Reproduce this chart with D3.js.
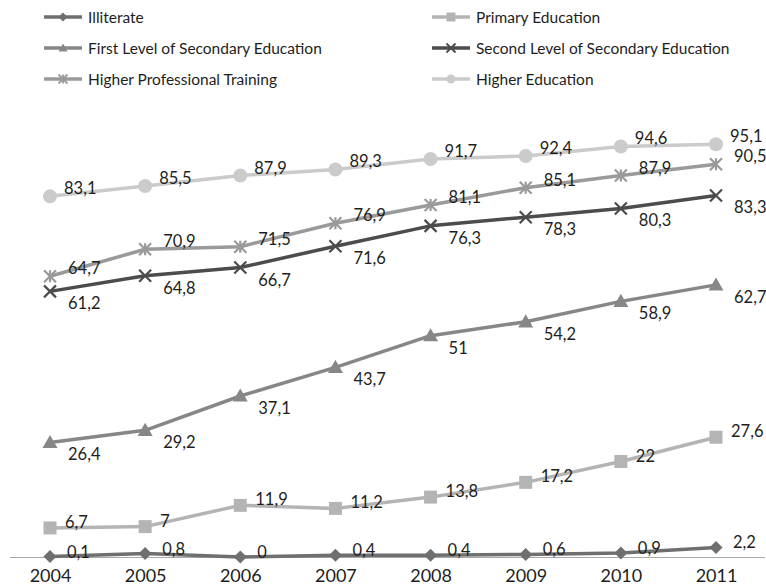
<!DOCTYPE html>
<html><head><meta charset="utf-8">
<script src="https://cdn.jsdelivr.net/npm/d3@7"></script>
<style>
body{margin:0;background:#fff}
svg{display:block}
text{font-family:Lato,"Open Sans",sans-serif;fill:#1e1e1e}
</style></head>
<body><svg id="chart" width="766" height="587"></svg>
<script>
// ---- data ----
const years = ["2004","2005","2006","2007","2008","2009","2010","2011"];
const illiterate = [0.1,0.8,0,0.4,0.4,0.6,0.9,2.2];
const primaryEducation = [6.7,7,11.9,11.2,13.8,17.2,22,27.6];
const firstSecondary = [26.4,29.2,37.1,43.7,51,54.2,58.9,62.7];
const secondSecondary = [61.2,64.8,66.7,71.6,76.3,78.3,80.3,83.3];
const higherProfessional = [64.7,70.9,71.5,76.9,81.1,85.1,87.9,90.5];
const higherEducation = [83.1,85.5,87.9,89.3,91.7,92.4,94.6,95.1];
const seriesNames = ["Illiterate","Primary Education","First Level of Secondary Education",
  "Second Level of Secondary Education","Higher Professional Training","Higher Education"];
const seriesValues = [illiterate,primaryEducation,firstSecondary,secondSecondary,higherProfessional,higherEducation];

// ---- styles (not data) ----
const styles = [
  {color:"#6f6f6f", marker:"diamond",  ldx:17, ldy:-5,  legCol:0, legRow:0},
  {color:"#b4b4b4", marker:"square",   ldx:15, ldy:-6,  legCol:1, legRow:0},
  {color:"#878787", marker:"triangle", ldx:18, ldy:12,  legCol:0, legRow:1},
  {color:"#4c4c4c", marker:"x",        ldx:18, ldy:12,  legCol:1, legRow:1},
  {color:"#9a9a9a", marker:"star",     ldx:18, ldy:-8,  legCol:0, legRow:2},
  {color:"#cbcbcb", marker:"circle",   ldx:14, ldy:-8,  legCol:1, legRow:2}
];

const svg = d3.select("#chart");
const x = d3.scalePoint().domain(years).range([50,716]);
const y = d3.scaleLinear().domain([0,100]).range([557,123]);

function markerPath(type, s){
  const h = s/2;
  switch(type){
    case "diamond": return `M0,${-h}L${h},0L0,${h}L${-h},0Z`;
    case "square": return `M${-h},${-h}H${h}V${h}H${-h}Z`;
    case "triangle": return `M0,${-h}L${h},${h*0.75}L${-h},${h*0.75}Z`;
    case "x": return `M${-h},${-h}L${h},${h}M${-h},${h}L${h},${-h}`;
    case "star": return `M${-h},${-h}L${h},${h}M${-h},${h}L${h},${-h}M0,${-h}V${h}`;
    case "circle": return d3.arc()({innerRadius:0,outerRadius:h,startAngle:0,endAngle:2*Math.PI});
  }
}
const isStroke = t => t==="x" || t==="star";

// axis (category axis line + labels)
const xAxis = d3.axisBottom(x).tickSize(0).tickPadding(0);
const gx = svg.append("g").attr("transform","translate(0,557)").call(xAxis);
gx.select(".domain").remove();
gx.selectAll("text").attr("y",25).attr("dy",0).style("font-size","18px").style("fill","#1e1e1e")
  .style("font-family","Lato, 'Open Sans', sans-serif");
svg.append("line").attr("x1",10).attr("x2",765).attr("y1",y(0)+0.5).attr("y2",y(0)+0.5)
  .attr("stroke","#a8a8a8").attr("stroke-width",1.2);

const line = d3.line().x((d,i)=>x(years[i])).y(d=>y(d));
const fmt = v => String(v).replace(".",",");

// draw series
const order = [5,4,3,2,1,0];
order.forEach(si=>{
  const vals = seriesValues[si], st = styles[si];
  const g = svg.append("g");
  g.append("path").attr("d",line(vals)).attr("fill","none").attr("stroke",st.color)
    .attr("stroke-width",3.5).attr("stroke-linejoin","round");
  g.selectAll("path.m").data(vals).join("path").attr("class","m")
    .attr("transform",(d,i)=>`translate(${x(years[i])},${y(d)})`)
    .attr("d",markerPath(st.marker, st.marker==="triangle"?15:(st.marker==="circle"?14:(isStroke(st.marker)?12:13))))
    .attr("fill",isStroke(st.marker)?"none":st.color)
    .attr("stroke",isStroke(st.marker)?st.color:"none")
    .attr("stroke-width",2.2);
  g.selectAll("text").data(vals).join("text")
    .attr("x",(d,i)=>x(years[i])+st.ldx)
    .attr("y",d=>y(d)+st.ldy+6)
    .style("font-size","16.5px")
    .text(fmt);
});

// legend
const legX = [44,432], legY = [17,48,79];
styles.forEach((st,si)=>{
  const lx = legX[st.legCol], ly = legY[st.legRow];
  const g = svg.append("g").attr("transform",`translate(${lx},${ly})`);
  g.append("line").attr("x1",0).attr("x2",38).attr("y1",0).attr("y2",0)
    .attr("stroke",st.color).attr("stroke-width",3.5);
  g.append("path").attr("transform","translate(19,0)")
    .attr("d",markerPath(st.marker, 9))
    .attr("fill",isStroke(st.marker)?"none":st.color)
    .attr("stroke",isStroke(st.marker)?st.color:"none").attr("stroke-width",1.8);
  g.append("text").attr("x",44).attr("y",5.5).style("font-size","15.5px").text(seriesNames[si]);
});
</script>
</body></html>
